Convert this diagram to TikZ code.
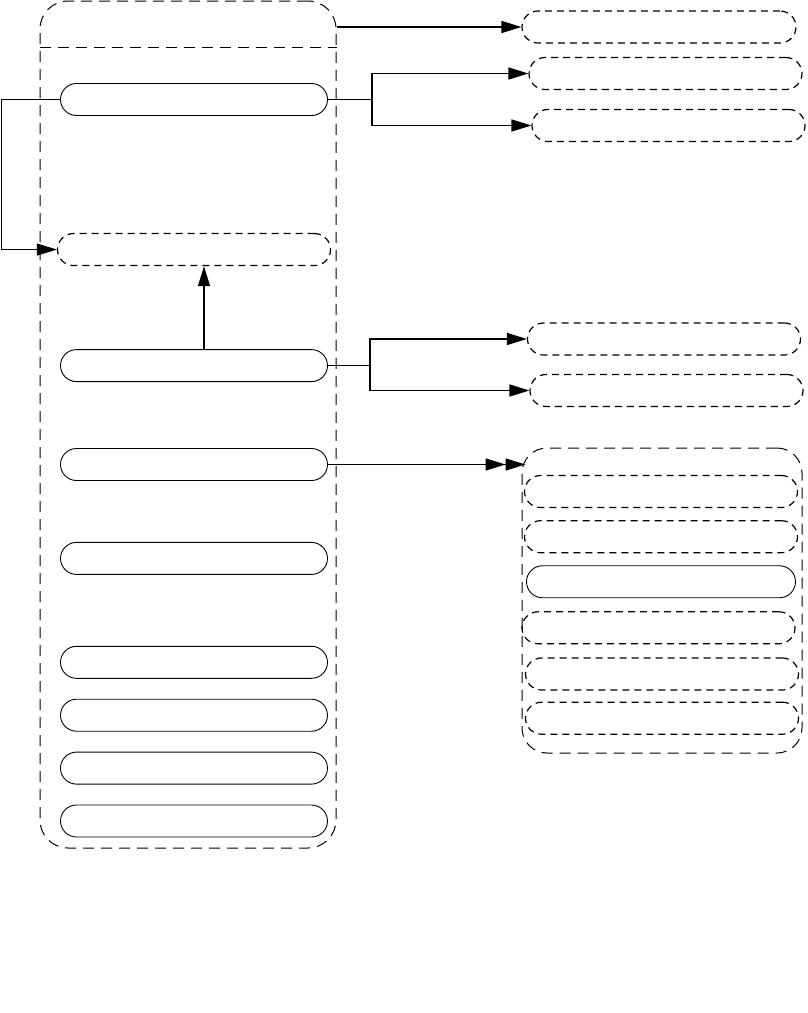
\documentclass[tikz,border=0pt]{standalone}
\usepackage{tikz}
\usetikzlibrary{positioning,arrows.meta}
\tikzset{
  % Looks of the boxes:
  base/.style = {
    rectangle,
    rounded corners=16pt,
    draw=black,
    line width=0.9pt,
    minimum height=32pt,
    inner sep=0pt
  },
  block/.style = {
    base,
    minimum width=267pt
  },
  stub/.style = {
    base,
    line width=1.2pt,
    dash pattern=on 7pt off 5pt,
    minimum width=273pt
  },
  panel/.style = {
    rectangle,
    rounded corners=28pt,
    draw=black,
    line width=1pt,
    dash pattern=on 11pt off 7pt,
    inner sep=0pt
  },
  % Looks of the connectors:
  link/.style = {
    draw=black,
    line width=0.9pt
  },
  arrow/.style = {
    link,
    line width=1.5pt,
    -{Triangle[length=20pt,width=12pt]}
  },
  twoarrow/.style = {
    link,
    line width=1.5pt,
    -{Triangle[length=20pt,width=12pt]Triangle[length=20pt,width=12pt]}
  },
}

\begin{document}
\begin{tikzpicture}[x=1pt,y=-1pt]
    \useasboundingbox (0,0) rectangle (807,1013);
    % Left column (position, etc.)
    \node[panel, minimum width=296pt, minimum height=847pt] (main) at (188,424.5) {};
    \draw[link, line width=1pt, dash pattern=on 11pt off 7pt] (main.west |- 0,47) -- (main.east |- 0,47);
    \node[block]                   (n1) at (194,99.5) {};
    \node[stub, below=117pt of n1] (n2) {};
    \node[block, below=83pt of n2] (n3) {};
    \node[block, below=66pt of n3] (n4) {};
    \node[block, below=61pt of n4] (n5) {};
    \node[block, below=71pt of n5] (n6) {};
    \node[block, below=20pt of n6] (n7) {};
    \node[block, below=20pt of n7] (n8) {};
    \node[block, below=20pt of n8] (n9) {};
    % Right column
    \node[stub, minimum width=274pt] (r1) at (659,27)    {};
    \node[stub]                      (r2) at (665.5,73.5) {};
    \node[stub]                      (r3) at (668.5,125.5) {};
    \node[stub]                      (r4) at (664,339)   {};
    \node[stub]                      (r5) at (666.5,390.5) {};
    \node[panel, rounded corners=25pt, minimum width=280pt, minimum height=305pt] (side) at (662,600.5) {};
    \node[stub]                                             (g1) at (661,491.5) {};
    \node[stub, below=12pt of g1]                           (g2) {};
    \node[block, minimum width=269pt, below=12pt of g2]     (g3) {};
    \node[stub, below=13pt of g3, xshift=-2.5pt]            (g4) {};
    \node[stub, below=13pt of g4, xshift=3.5pt]             (g5) {};
    \node[stub, below=11pt of g5]                           (g6) {};
    % Connectors
    \coordinate[right=44pt of n1.east] (fork1);
    \coordinate[right=42pt of n3.east] (fork2);
    \draw[arrow] (main.east |- r1.west) -- (r1.west);
    \draw[link] (n1.east) -- (fork1);
    \draw[arrow] (fork1) |- (r2.west);
    \draw[arrow] (fork1) |- (r3.west);
    \draw[arrow, line width=0.9pt] (n1.west) -- ++(-59,0) |- (n2.west);
    \draw[arrow] ([xshift=10pt]n3.north) -- ([xshift=10pt]n2.south);
    \draw[link] (n3.east) -- (fork2);
    \draw[arrow] (fork2) |- (r4.west);
    \draw[arrow] (fork2) |- (r5.west);
    \draw[twoarrow, shorten >=-4pt] (n4.east) -- (side.west |- n4.east);
\end{tikzpicture}
\end{document}
